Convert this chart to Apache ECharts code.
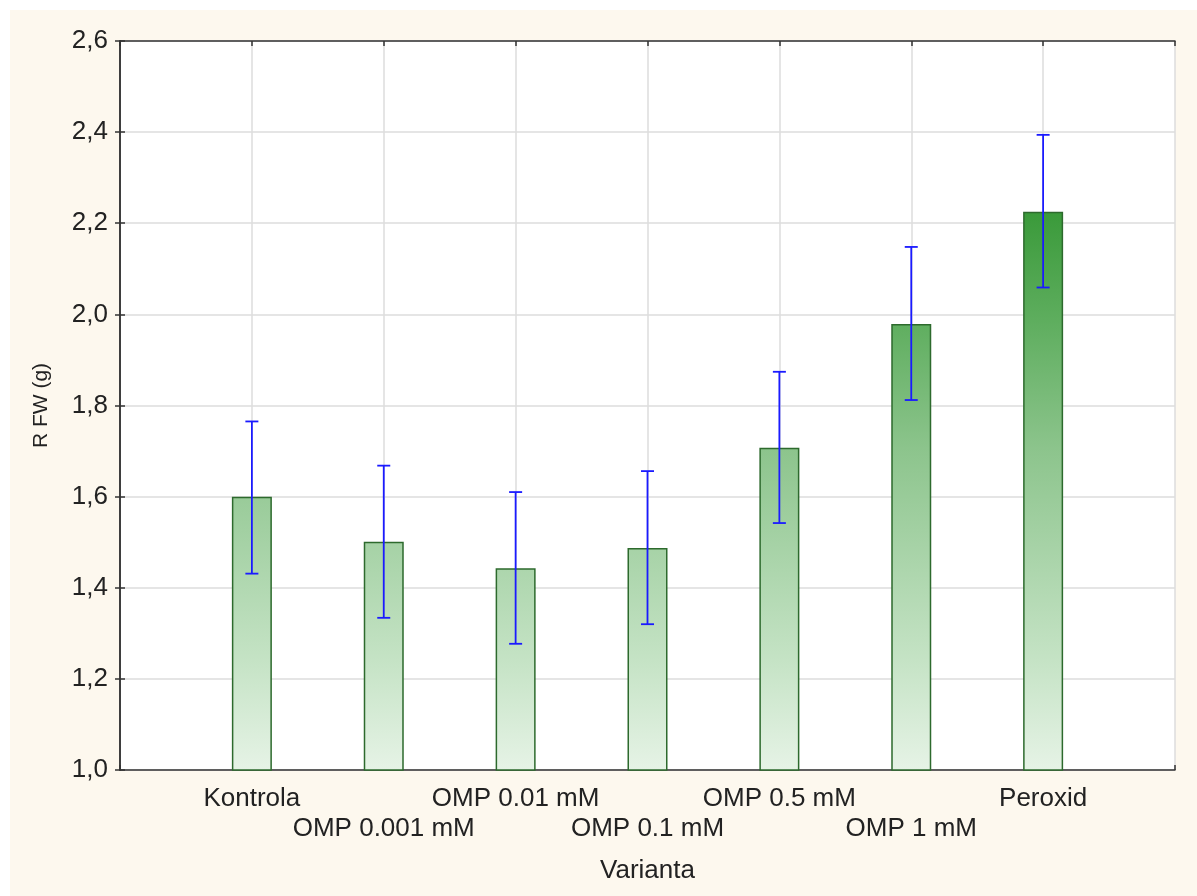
<!DOCTYPE html>
<html>
<head>
<meta charset="utf-8">
<script src="https://cdn.jsdelivr.net/npm/echarts@6/dist/echarts.min.js"></script>
<style>
html,body{margin:0;padding:0;background:#ffffff;}
#chart{position:absolute;left:10px;top:10px;width:1187px;height:886px;}
</style>
</head>
<body>
<div id="chart"></div>
<script>
const categories = ['Kontrola','OMP 0.001 mM','OMP 0.01 mM','OMP 0.1 mM','OMP 0.5 mM','OMP 1 mM','Peroxid'];
const means = [1.600, 1.501, 1.443, 1.487, 1.707, 1.979, 2.225];
const lower = [1.431, 1.334, 1.277, 1.320, 1.542, 1.812, 2.059];
const upper = [1.765, 1.668, 1.610, 1.656, 1.874, 2.148, 2.394];
const yMin = 1.0, yMax = 2.6, yStep = 0.2;
const xName = 'Varianta';
const yName = 'R FW (g)';

const chart = echarts.init(document.getElementById('chart'), null, {renderer: 'canvas'});
const font = 'Liberation Sans, Arial, sans-serif';
const textColor = '#222222';

const barData = means.map((v, i) => [i + 1, v]);
const errData = means.map((v, i) => [i + 1, lower[i], upper[i]]);

const barGradient = new echarts.graphic.LinearGradient(0, 202, 0, 760, [
  {offset: 0, color: '#3a9a3a'},
  {offset: 0.2, color: '#5fae5f'},
  {offset: 0.423, color: '#8cc48c'},
  {offset: 0.803, color: '#c5e3c5'},
  {offset: 1, color: '#e6f3e6'}
], true);

const commonX = {
  type: 'value', min: 0, max: categories.length + 1, interval: 1
};

chart.setOption({
  backgroundColor: '#fdf8ee',
  animation: false,
  grid: {left: 110, right: 22, top: 31, bottom: 126, show: true, backgroundColor: '#ffffff', borderWidth: 0},
  xAxis: [
    Object.assign({}, commonX, {
      position: 'bottom',
      name: xName, nameLocation: 'middle', nameGap: 88,
      nameTextStyle: {fontFamily: font, fontSize: 26, color: textColor},
      axisLine: {show: true, lineStyle: {color: '#333', width: 1.5}},
      axisTick: {show: true, inside: true, length: 5, lineStyle: {color: '#333', width: 1.5}},
      splitLine: {show: true, lineStyle: {color: '#dcdcdc', width: 1.5}},
      axisLabel: {
        margin: 14, fontFamily: font, fontSize: 26, color: textColor, lineHeight: 30,
        formatter: function (v) {
          const idx = Math.round(v) - 1;
          if (idx < 0 || idx >= categories.length) return '';
          return (idx % 2 === 1 ? '\n' : '') + categories[idx];
        }
      }
    }),
    Object.assign({}, commonX, {
      position: 'top',
      axisLine: {show: true, lineStyle: {color: '#333', width: 1.5}},
      axisTick: {show: true, inside: true, length: 5, lineStyle: {color: '#333', width: 1.5}},
      splitLine: {show: false},
      axisLabel: {show: false}
    })
  ],
  yAxis: [
    {
      type: 'value', min: yMin, max: yMax, interval: yStep, position: 'left',
      name: yName, nameLocation: 'middle', nameGap: 68, nameRotate: 90,
      nameTextStyle: {fontFamily: font, fontSize: 21, color: textColor},
      axisLine: {show: true, lineStyle: {color: '#333', width: 1.5}},
      axisTick: {show: true, inside: true, length: 5, lineStyle: {color: '#333', width: 1.5}},
      splitLine: {show: true, lineStyle: {color: '#dcdcdc', width: 1.5}},
      axisLabel: {
        margin: 12, fontFamily: font, fontSize: 26, color: textColor,
        formatter: v => v.toFixed(1).replace('.', ',')
      }
    },
    {
      type: 'value', min: yMin, max: yMax, interval: yStep, position: 'right',
      axisLine: {show: true, lineStyle: {color: '#333', width: 1.5}},
      axisTick: {show: true, inside: true, length: 5, lineStyle: {color: '#333', width: 1.5}},
      splitLine: {show: false},
      axisLabel: {show: false}
    }
  ],
  series: [
    {
      type: 'bar', xAxisIndex: 0, yAxisIndex: 0,
      data: barData, barWidth: 40, clip: true,
      itemStyle: {color: barGradient, borderColor: '#2d6a2d', borderWidth: 1.5}
    },
    {
      type: 'custom', xAxisIndex: 0, yAxisIndex: 0,
      data: errData, z: 10,
      renderItem: function (params, api) {
        const x = api.value(0);
        const lo = api.coord([x, api.value(1)]);
        const hi = api.coord([x, api.value(2)]);
        const hw = 6.5;
        const style = {stroke: '#1a1aff', lineWidth: 1.8};
        return {
          type: 'group',
          children: [
            {type: 'line', shape: {x1: lo[0], y1: lo[1], x2: hi[0], y2: hi[1]}, style: style},
            {type: 'line', shape: {x1: hi[0] - hw, y1: hi[1], x2: hi[0] + hw, y2: hi[1]}, style: style},
            {type: 'line', shape: {x1: lo[0] - hw, y1: lo[1], x2: lo[0] + hw, y2: lo[1]}, style: style}
          ]
        };
      }
    }
  ]
});
</script>
</body>
</html>
